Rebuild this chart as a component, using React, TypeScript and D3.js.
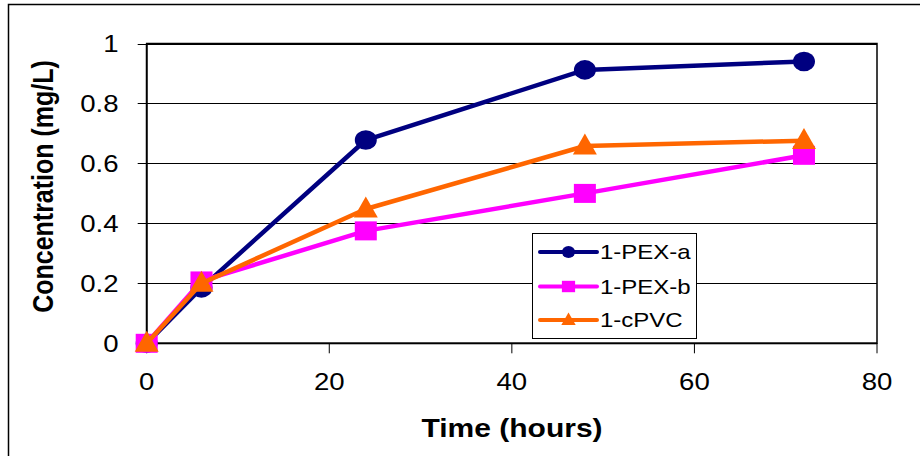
import React from "react";
import * as d3 from "d3";

const times = [0, 6, 24, 48, 72];
const pexA = [0, 0.185, 0.678, 0.912, 0.94];
const pexB = [0, 0.208, 0.375, 0.5, 0.627];
const cpvc = [0, 0.2, 0.448, 0.658, 0.676];
const seriesNames = ["1-PEX-a", "1-PEX-b", "1-cPVC"];
const seriesColors = ["#000080", "#FF00FF", "#FF6600"];
const seriesMarkers = ["circle", "square", "triangle"];
const xTicks = [0, 20, 40, 60, 80];
const yTicks = [0, 0.2, 0.4, 0.6, 0.8, 1];

const W = 920;
const H = 456;
const plot = { left: 146.7, right: 877, top: 43.5, bottom: 343.3 };
const SX = 1.2; // horizontal stretch of the original rendering
const FONT = "'Liberation Sans', Arial, sans-serif";

function Marker({ kind, cx, cy, color, s }: { kind: string; cx: number; cy: number; color: string; s: number }) {
  if (kind === "circle") return <ellipse cx={cx} cy={cy} rx={11 * s} ry={9.8 * s} fill={color} />;
  if (kind === "square") return <rect x={cx - 11 * s} y={cy - 9.5 * s} width={22 * s} height={19 * s} fill={color} />;
  const w = 24 * s, h = 21 * s;
  const p = [[cx, cy - h * 0.6], [cx + w / 2, cy + h * 0.4], [cx - w / 2, cy + h * 0.4]];
  return <polygon points={p.map((q) => q.join(",")).join(" ")} fill={color} />;
}

export default function App() {
  const x = d3.scaleLinear().domain([0, 80]).range([plot.left, plot.right]);
  const y = d3.scaleLinear().domain([0, 1]).range([plot.bottom, plot.top]);
  const data = [pexA, pexB, cpvc];
  const line = d3.line<number>().x((_, i) => x(times[i])).y((d) => y(d));
  const legendY = [252, 286.5, 320];

  return (
    <div style={{ position: "fixed", left: 0, top: 0 }}>
      <svg width={W} height={H} style={{ display: "block", background: "#fff" }} fontFamily={FONT}>
        <rect x={8.5} y={4.5} width={W + 10} height={H + 10} fill="#fff" stroke="#000" strokeWidth={1.5} />
        {/* gridlines */}
        {yTicks.map((t) => (
          <line key={"g" + t} x1={plot.left - 9} x2={plot.right} y1={Math.round(y(t)) + 0.5} y2={Math.round(y(t)) + 0.5} stroke="#000" strokeWidth={1} />
        ))}
        <rect x={plot.left} y={plot.top} width={plot.right - plot.left} height={plot.bottom - plot.top} fill="none" stroke="#000" strokeWidth={1.5} />
        {/* axes */}
        <line x1={plot.left} x2={plot.left} y1={plot.top} y2={plot.bottom} stroke="#000" strokeWidth={1.8} />
        <line x1={plot.left} x2={plot.right} y1={plot.bottom} y2={plot.bottom} stroke="#000" strokeWidth={1.8} />
        {xTicks.map((t) => (
          <line key={"xt" + t} x1={x(t)} x2={x(t)} y1={plot.bottom} y2={plot.bottom + 10} stroke="#000" strokeWidth={1} />
        ))}
        {yTicks.map((t) => (
          <text key={"yl" + t} transform={`translate(118.5,${y(t) + 8.3}) scale(${SX},1)`} textAnchor="end" fontSize={23} fill="#000">
            {d3.format("~g")(t)}
          </text>
        ))}
        {xTicks.map((t) => (
          <text key={"xl" + t} transform={`translate(${x(t)},390) scale(${SX},1)`} textAnchor="middle" fontSize={23} fill="#000">
            {t}
          </text>
        ))}
        <text transform={`translate(512,436.5) scale(${SX},1)`} textAnchor="middle" fontSize={25} fontWeight="bold" fill="#000">
          Time (hours)
        </text>
        <text transform={`translate(52.5,186.5) scale(${SX},1) rotate(-90)`} textAnchor="middle" fontSize={25} fontWeight="bold" fill="#000">
          Concentration (mg/L)
        </text>
        {/* series */}
        {data.map((vals, si) => (
          <g key={"s" + si}>
            <path d={line(vals) || ""} fill="none" stroke={seriesColors[si]} strokeWidth={4.5} strokeLinejoin="round" />
            {vals.map((v, i) => (
              <Marker key={i} kind={seriesMarkers[si]} cx={x(times[i])} cy={y(v)} color={seriesColors[si]} s={1} />
            ))}
          </g>
        ))}
        {/* legend */}
        <rect x={532.5} y={233.5} width={164} height={105} fill="#fff" stroke="#000" strokeWidth={1} />
        {seriesNames.map((n, i) => (
          <g key={"l" + i}>
            <line x1={540} x2={597} y1={legendY[i]} y2={legendY[i]} stroke={seriesColors[i]} strokeWidth={4} strokeLinecap="round" />
            <Marker kind={seriesMarkers[i]} cx={568.5} cy={legendY[i]} color={seriesColors[i]} s={0.6} />
            <text transform={`translate(600,${legendY[i] + 7}) scale(${SX},1)`} fontSize={20} fill="#000">
              {n}
            </text>
          </g>
        ))}
      </svg>
    </div>
  );
}
